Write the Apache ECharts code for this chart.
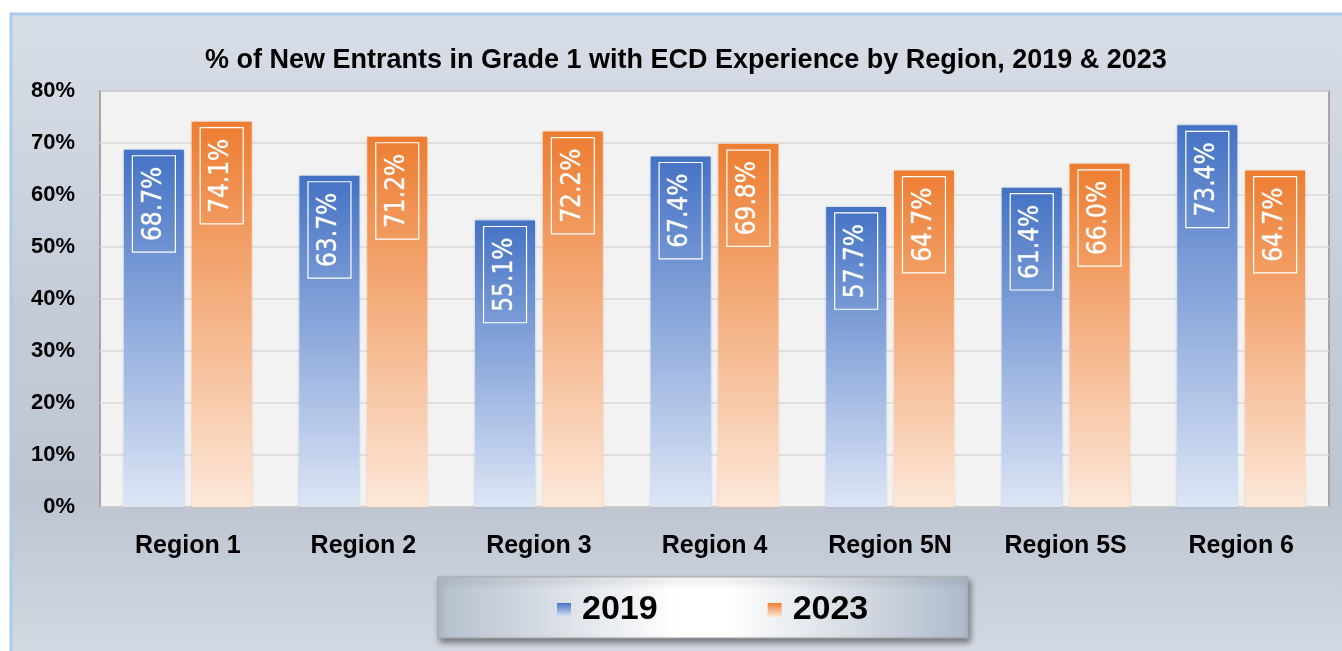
<!DOCTYPE html>
<html><head><meta charset="utf-8">
<script src="https://cdn.jsdelivr.net/npm/echarts@6/dist/echarts.min.js"></script>
<style>html,body{margin:0;padding:0;background:#fff;}#c{width:1342px;height:651px;}</style>
</head><body><div id="c"></div>
<script>
const titleText = '% of New Entrants in Grade 1 with ECD Experience by Region, 2019 & 2023';
const categories = ['Region 1','Region 2','Region 3','Region 4','Region 5N','Region 5S','Region 6'];
const seriesNames = ['2019','2023'];
const values2019 = [68.7, 63.7, 55.1, 67.4, 57.7, 61.4, 73.4];
const values2023 = [74.1, 71.2, 72.2, 69.8, 64.7, 66.0, 64.7];
const yTicks = [0,10,20,30,40,50,60,70,80];

const FONT = 'Liberation Sans, Arial, sans-serif';
function grad(top, bottom){
  return new echarts.graphic.LinearGradient(0,0,0,1,[{offset:0,color:top},{offset:1,color:bottom}]);
}
const blue = grad('#4472C4','#DDE6F5');
const orange = grad('#ED7D31','#FCE8DA');
const label = {
  show:true, position:'insideTop', distance:6, rotate:90,
  align:'right', verticalAlign:'middle',
  color:'#fff', fontFamily:'DejaVu Sans Condensed, DejaVu Sans, sans-serif', fontSize:26,
  textBorderColor:'rgba(255,255,255,0.6)', textBorderWidth:0.6,
  borderColor:'#fff', borderWidth:1.2, padding:[9,11,8,11],
  formatter:p=>p.value.toFixed(1)+'%'
};
const chart = echarts.init(document.getElementById('c'));
chart.setOption({
  animation:false,
  backgroundColor:'#fff',
  graphic:[
    {type:'rect', z:-10, shape:{x:11,y:14,width:1340,height:650},
     style:{fill:new echarts.graphic.LinearGradient(0,0,0,1,[
       {offset:0,color:'#D8DEE7'},{offset:0.45,color:'#C3CCD8'},{offset:0.75,color:'#BCC5D1'},{offset:1,color:'#D5DBE4'}]),
       stroke:'#A8CCEB', lineWidth:3}},
    {type:'rect', z:-5, shape:{x:438,y:577,width:530,height:61},
     style:{fill:new echarts.graphic.LinearGradient(0,0,1,0,[
       {offset:0,color:'#B5C0CE'},{offset:0.45,color:'#FFFFFF'},{offset:0.55,color:'#FFFFFF'},{offset:1,color:'#AEBACA'}]),
       stroke:'#A6A6A6', lineWidth:1,
       shadowBlur:6, shadowOffsetX:2, shadowOffsetY:4, shadowColor:'rgba(0,0,0,0.45)'}}
  ],
  title:{text:titleText, left:200, top:42,
    textStyle:{fontFamily:FONT, fontWeight:'bold', fontSize:27, color:'#000'}},
  legend:{left:552, top:588, itemWidth:14, itemHeight:14, itemGap:110, icon:'rect',
    data:seriesNames,
    textStyle:{fontFamily:FONT, fontWeight:'bold', fontSize:34, color:'#000', padding:[0,0,0,6]}},
  grid:{left:100, right:13, top:91, bottom:144, show:true, backgroundColor:'#F2F2F2',
    borderColor:'#A6A6A6', borderWidth:2},
  xAxis:{type:'category', data:categories,
    axisLine:{show:false}, axisTick:{show:false},
    axisLabel:{margin:27, fontFamily:FONT, fontWeight:'bold', fontSize:25, color:'#000'}},
  yAxis:{type:'value', min:0, max:80, interval:10,
    axisLine:{show:false}, axisTick:{show:false},
    splitLine:{lineStyle:{color:'#D9D9D9', width:1.5}},
    axisLabel:{margin:25, fontFamily:FONT, fontWeight:'bold', fontSize:22, color:'#000',
      formatter:v=>yTicks.includes(v)? v+'%':''}},
  series:[
    {name:seriesNames[0], type:'bar', data:values2019, barWidth:60, barGap:'13%',
     itemStyle:{color:blue, shadowBlur:3, shadowColor:'rgba(68,114,196,0.5)'}, label:label},
    {name:seriesNames[1], type:'bar', data:values2023, barWidth:60,
     itemStyle:{color:orange, shadowBlur:3, shadowColor:'rgba(237,125,49,0.5)'}, label:label}
  ]
});
</script></body></html>
